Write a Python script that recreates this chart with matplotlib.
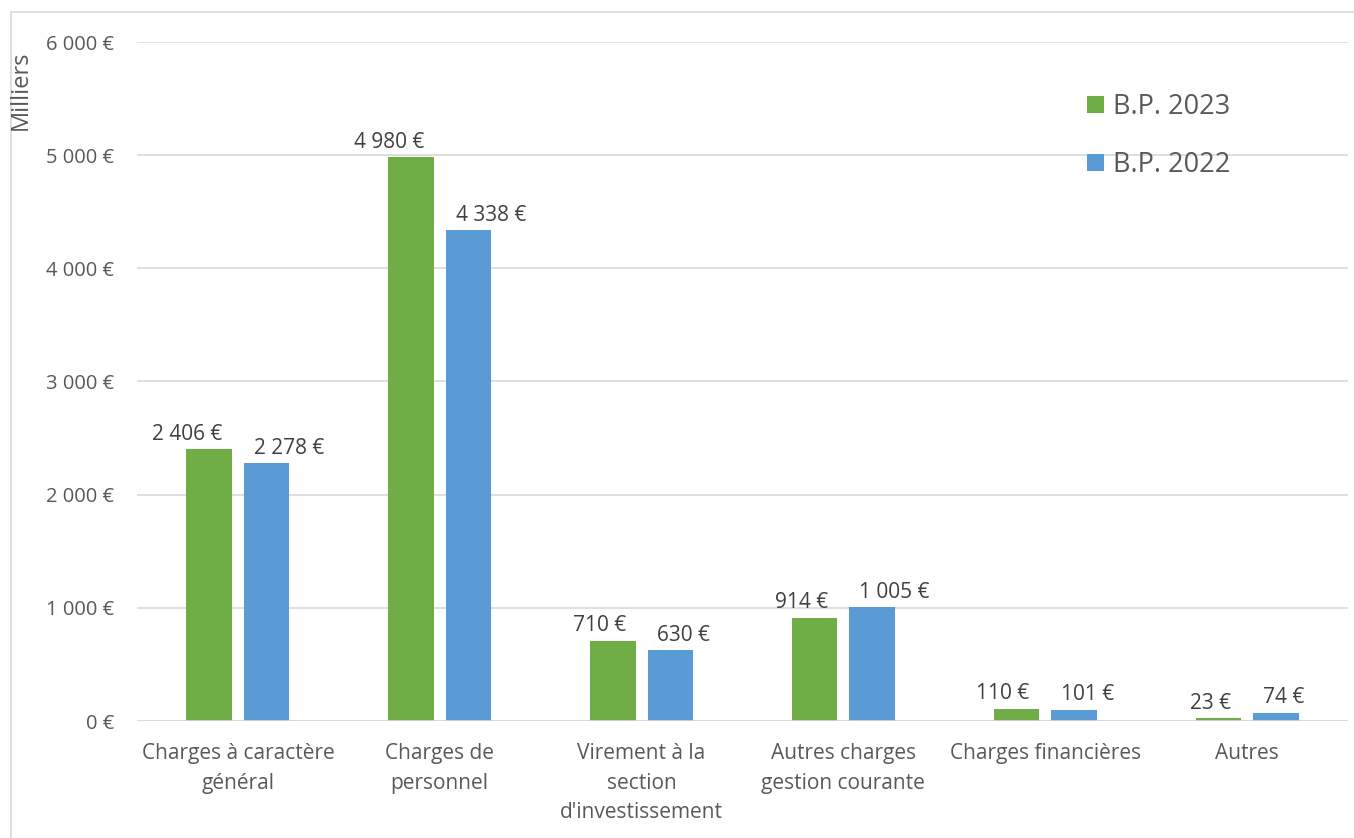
import matplotlib
matplotlib.use("Agg")
import matplotlib.pyplot as plt
import numpy as np
from matplotlib.patches import Rectangle

categories = ["Charges à caractère\ngénéral", "Charges de\npersonnel",
              "Virement à la\nsection\nd'investissement", "Autres charges\ngestion courante",
              "Charges financières", "Autres"]
bp2023 = [2406, 4980, 710, 914, 110, 23]
bp2022 = [2278, 4338, 630, 1005, 101, 74]
series_names = ["B.P. 2023", "B.P. 2022"]
yticks = [0, 1000, 2000, 3000, 4000, 5000, 6000]

GREEN = "#70AD47"
BLUE = "#5B9BD5"
TXT = "#595959"

def fmt(v):
    s = f"{int(v):,}".replace(",", " ")
    return f"{s} €"

plt.rcParams['font.family'] = ['Open Sans', 'DejaVu Sans']

fig = plt.figure(figsize=(13.54, 8.38), dpi=100)
W, H = 1354, 838
ax = fig.add_axes([137 / W, 1 - 721 / H, 1211 / W, (721 - 42) / H])

# outer border
fig.patches.append(Rectangle((11 / W, -0.01), 1.1, 1 - 12 / H + 0.01, transform=fig.transFigure,
                             fill=False, edgecolor="#D9D9D9", linewidth=1.2))

x = np.arange(len(categories))
w = 0.225
off = 0.1425
b1 = ax.bar(x - off, bp2023, width=w, color=GREEN, label=series_names[0], zorder=3)
b2 = ax.bar(x + off, bp2022, width=w, color=BLUE, label=series_names[1], zorder=3)

for r, v in zip(b1, bp2023):
    ax.annotate(fmt(v), (r.get_x() + r.get_width(), v), xytext=(-7, 3),
                textcoords="offset points", ha="right", va="bottom",
                fontsize=15, color="#404040")
for r, v in zip(b2, bp2022):
    ax.annotate(fmt(v), (r.get_x(), v), xytext=(7, 3),
                textcoords="offset points", ha="left", va="bottom",
                fontsize=15, color="#404040")

ax.set_xlim(-0.5, len(categories) - 0.5)
ax.set_ylim(0, 6000)
ax.set_yticks(yticks)
ax.set_yticklabels([fmt(v) for v in yticks], fontsize=14.5, color=TXT)
ax.set_xticks(x)
ax.set_xticklabels(categories, fontsize=15, color=TXT, linespacing=1.52)
ax.tick_params(axis="x", length=0, pad=16)
ax.tick_params(axis="y", length=0, pad=16.5)
ax.grid(axis="y", color="#D9D9D9", linewidth=1.2, zorder=0)
for s in ax.spines.values():
    s.set_visible(False)
ax.axhline(0, color="#D9D9D9", linewidth=1.2, zorder=4)

fig.text(21 / W, 1 - 90 / H, "Milliers", rotation=90, ha="center", va="center",
         fontsize=17, color=TXT)

leg = ax.legend(loc="upper left", bbox_to_anchor=((1063 - 137) / 1211, 1 - (69 - 42) / 679),
                frameon=False, fontsize=19.5, handlelength=0.6, handleheight=0.6,
                handletextpad=0.35, labelspacing=1.1, labelcolor=TXT)

fig.savefig("out.png", dpi=100, facecolor="white")
